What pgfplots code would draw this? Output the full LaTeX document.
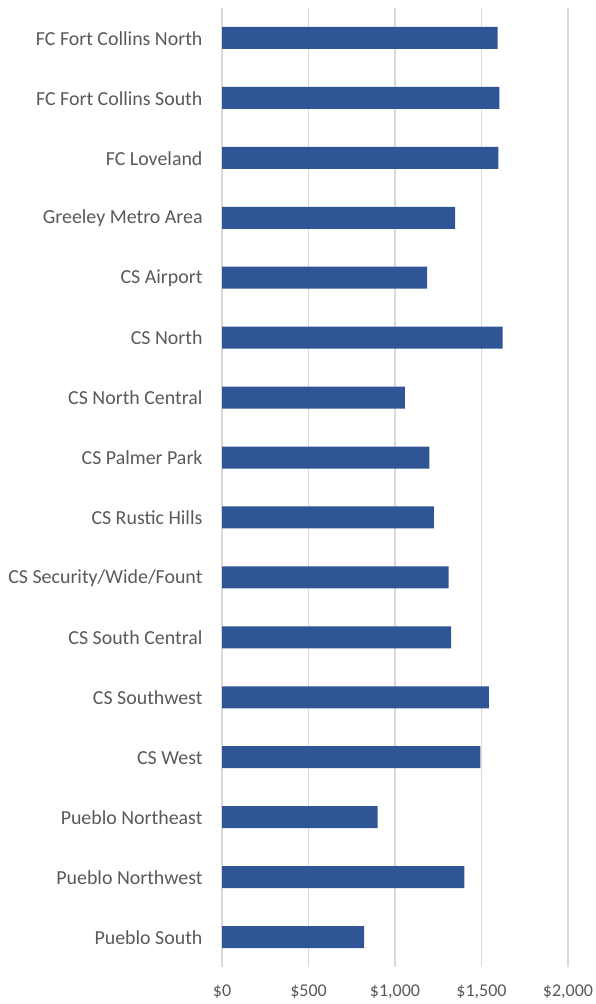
\documentclass[border=0pt]{standalone}
\usepackage{pgfplots}
\pgfplotsset{compat=1.18}
\usepackage{fontspec}
\setmainfont{Carlito}
\definecolor{barblue}{HTML}{2F5597}
\definecolor{txtgray}{HTML}{595959}
\definecolor{gridgray}{HTML}{D9D9D9}
\begin{document}
\begin{tikzpicture}
\path[use as bounding box] (0,0) rectangle (596pt,1004pt);
\begin{axis}[
  at={(222pt,37pt)}, anchor=south west,
  scale only axis, width=346pt, height=959pt,
  xbar, bar width=22pt,
  xmin=0, xmax=2000,
  ymin=-0.5, ymax=15.5, y dir=reverse,
  axis line style={draw=none},
  xtick={0,500,1000,1500,2000},
  xticklabels={{\$0},{\$500},{\$1,000},{\$1,500},{\$2,000}},
  ytick={0,...,15},
  yticklabels={FC Fort Collins North,FC Fort Collins South,FC Loveland,Greeley Metro Area,CS Airport,CS North,CS North Central,CS Palmer Park,CS Rustic Hills,CS Security/Wide/Fount,CS South Central,CS Southwest,CS West,Pueblo Northeast,Pueblo Northwest,Pueblo South},
  major tick length=0pt,
  xmajorgrids, major grid style={gridgray, line width=1.2pt},
  yticklabel style={font=\fontsize{19.9}{22}\selectfont, text=txtgray, xshift=-16pt, yshift=-0.5pt},
  xticklabel style={font=\fontsize{18}{20}\selectfont, text=txtgray, yshift=-14pt},
]
\addplot[fill=barblue, draw=none] coordinates {
(1593,0) (1604,1) (1597,2) (1347,3) (1185,4) (1622,5) (1057,6) (1199,7)
(1224,8) (1310,9) (1324,10) (1543,11) (1493,12) (899,13) (1401,14) (822,15)
};
\end{axis}
\end{tikzpicture}
\end{document}
